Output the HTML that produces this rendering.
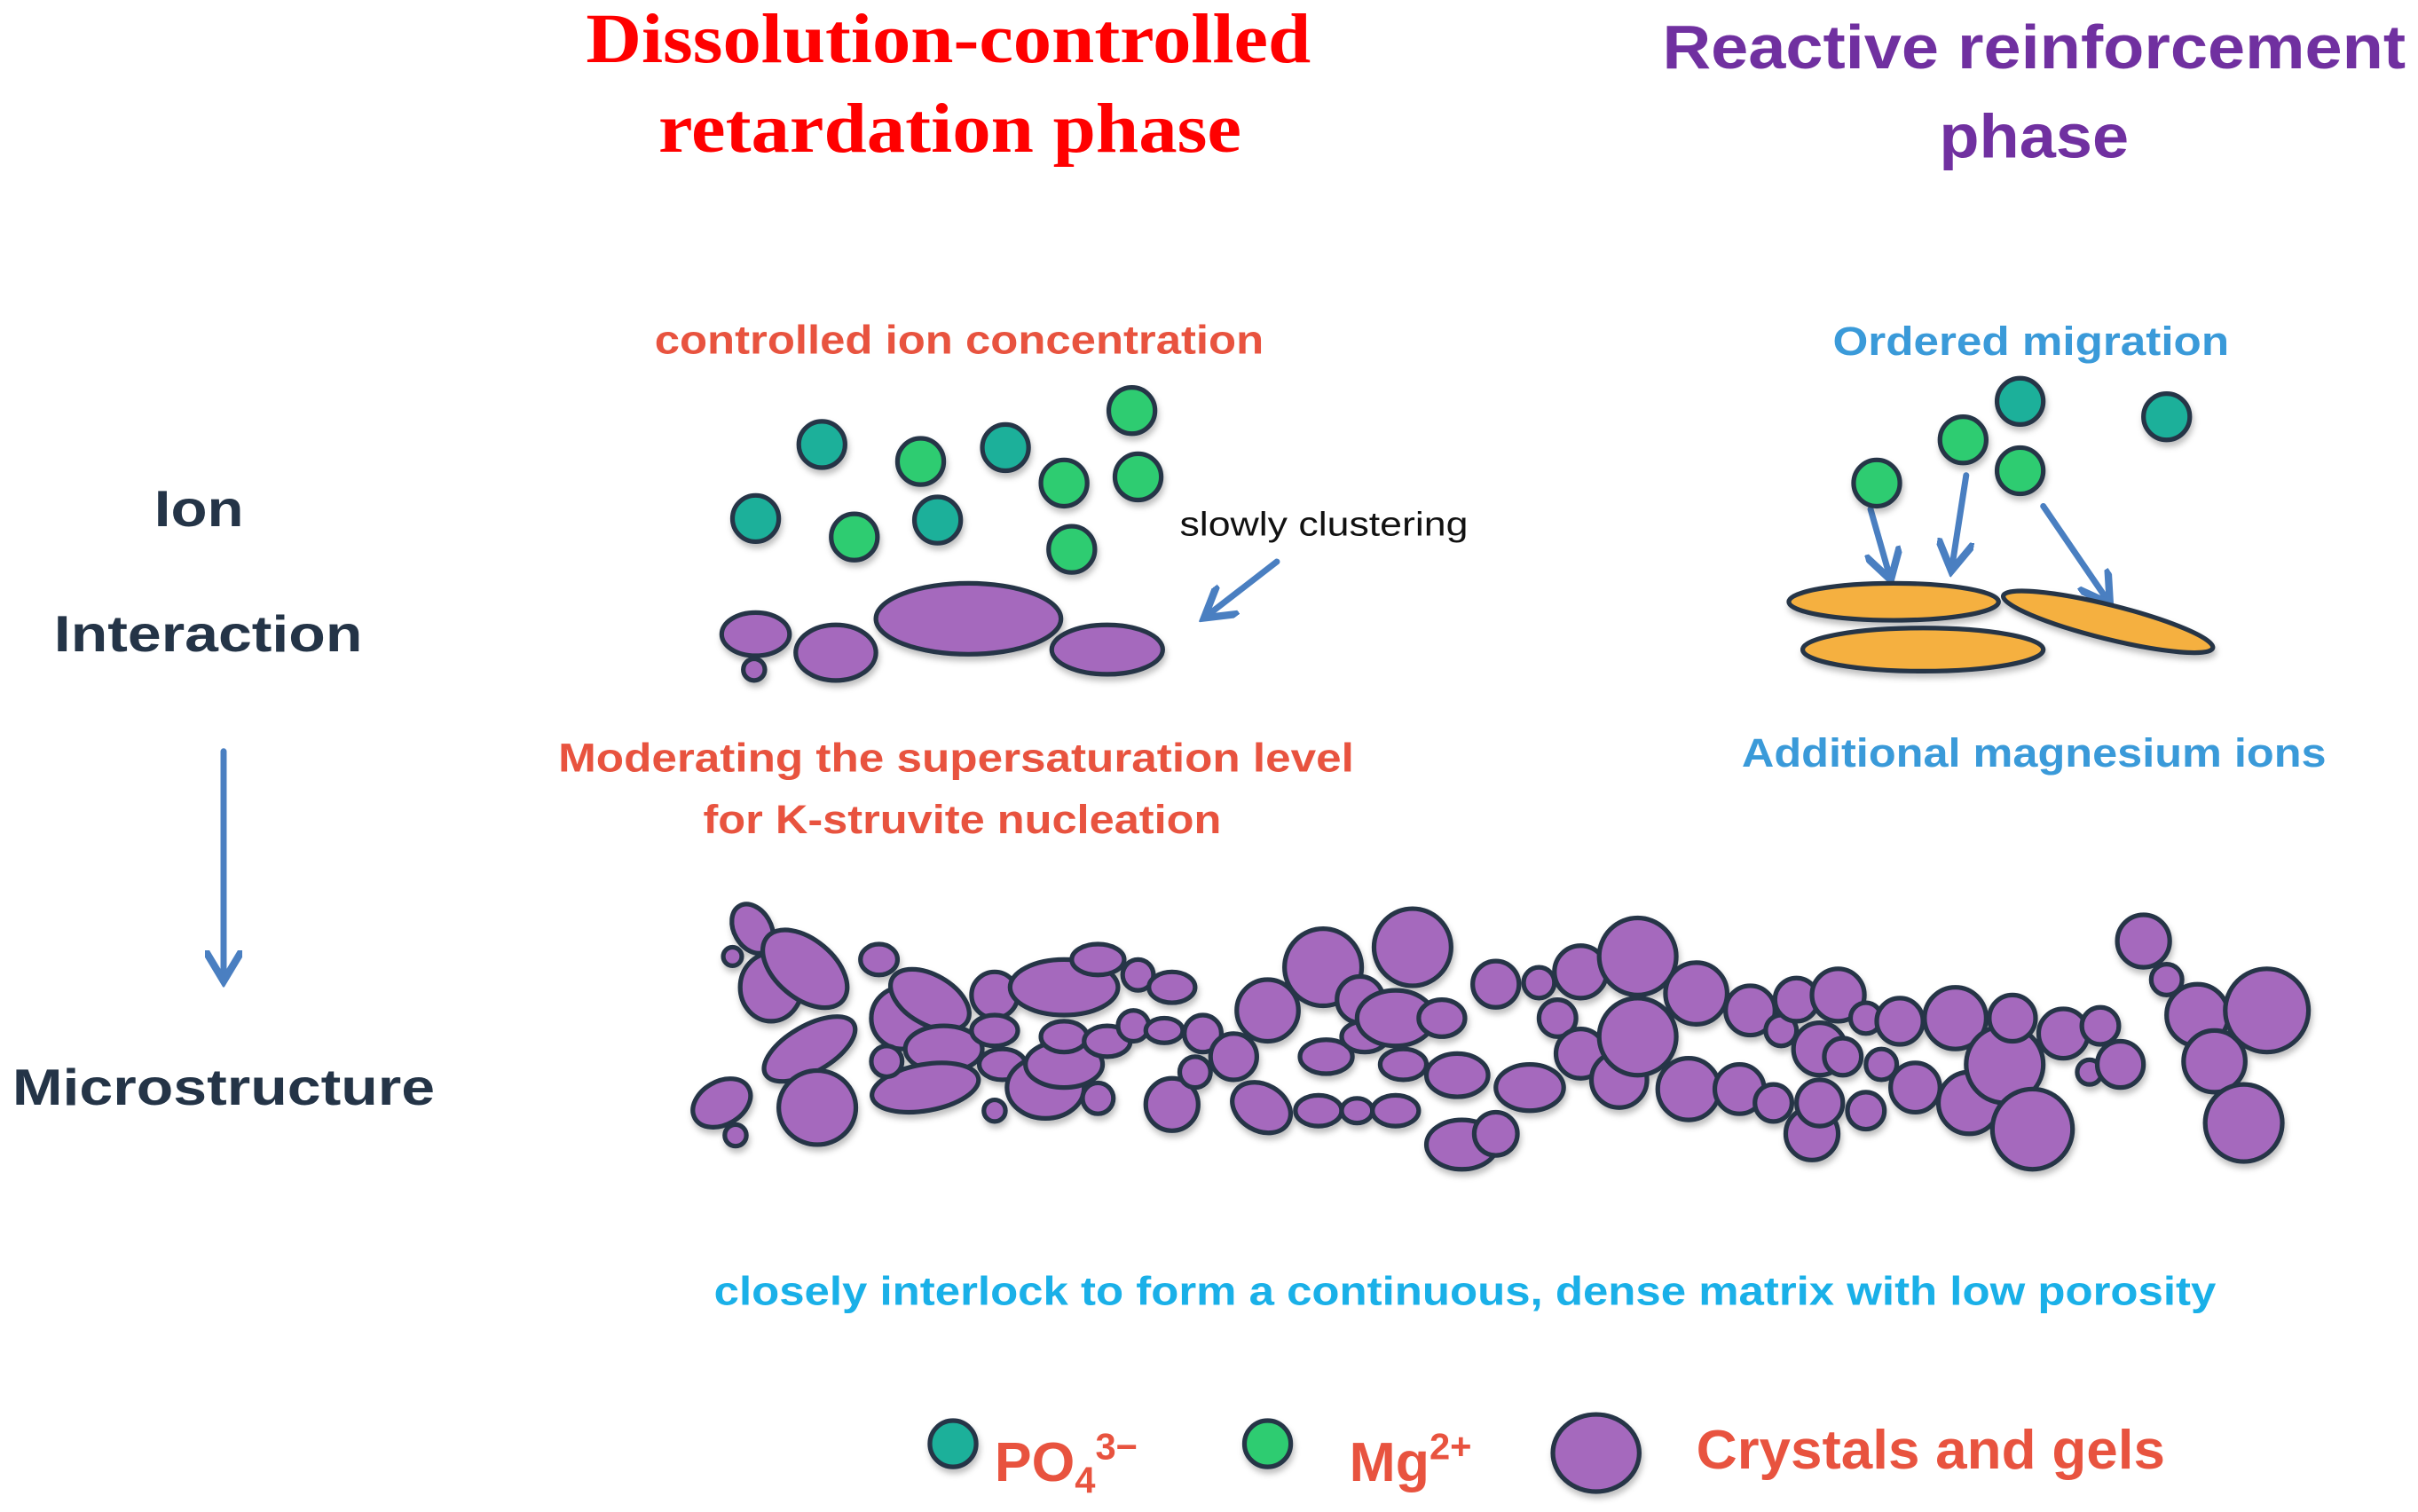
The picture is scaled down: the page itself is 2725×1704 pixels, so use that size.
<!DOCTYPE html>
<html><head><meta charset="utf-8"><style>
html,body{margin:0;padding:0;background:#fff;}
svg{display:block;}
</style></head><body>
<svg width="2725" height="1704" viewBox="0 0 1568 980" xmlns="http://www.w3.org/2000/svg">
<defs>
<filter id="sh" x="-30%" y="-30%" width="160%" height="170%"><feDropShadow dx="1" dy="3" stdDeviation="2" flood-color="#000" flood-opacity="0.25"/></filter>
<marker id="ah" markerWidth="6" markerHeight="6" refX="4" refY="3" orient="auto" markerUnits="strokeWidth"><path d="M0,0 L5,3 L0,6" fill="none" stroke="#4a7fc1" stroke-width="1.2"/></marker>
</defs>
<g font-family="Liberation Serif, serif" font-weight="bold" fill="#ff0000" font-size="46" text-anchor="middle">
<text x="615" y="40" textLength="470" lengthAdjust="spacingAndGlyphs">Dissolution-controlled</text>
<text x="616" y="98" textLength="378" lengthAdjust="spacingAndGlyphs">retardation phase</text>
</g>
<g font-family="Liberation Sans, sans-serif" font-weight="bold" fill="#7030a0" font-size="40" text-anchor="middle">
<text x="1319" y="44" textLength="482" lengthAdjust="spacingAndGlyphs">Reactive reinforcement</text>
<text x="1319" y="102" textLength="123" lengthAdjust="spacingAndGlyphs">phase</text>
</g>
<g font-family="Liberation Sans, sans-serif" font-weight="bold" font-size="26" text-anchor="middle">
<text x="622" y="229" fill="#e8533f" textLength="395" lengthAdjust="spacingAndGlyphs">controlled ion concentration</text>
<text x="1317" y="230" fill="#3a9ad9" textLength="257" lengthAdjust="spacingAndGlyphs">Ordered migration</text>
<text x="620" y="500" fill="#e8533f" textLength="516" lengthAdjust="spacingAndGlyphs">Moderating the supersaturation level</text>
<text x="624" y="540" fill="#e8533f" textLength="336" lengthAdjust="spacingAndGlyphs">for K-struvite nucleation</text>
<text x="1319" y="497" fill="#3a9ad9" textLength="379" lengthAdjust="spacingAndGlyphs">Additional magnesium ions</text>
<text x="950" y="846" fill="#1ab0e8" textLength="974" lengthAdjust="spacingAndGlyphs">closely interlock to form a continuous, dense matrix with low porosity</text>
</g>
<g font-family="Liberation Sans, sans-serif" font-weight="bold" font-size="33" fill="#243447" text-anchor="middle">
<text x="129" y="341" textLength="58" lengthAdjust="spacingAndGlyphs">Ion</text>
<text x="135" y="422" textLength="200" lengthAdjust="spacingAndGlyphs">Interaction</text>
<text x="145" y="716" textLength="274" lengthAdjust="spacingAndGlyphs">Microstructure</text>
</g>
<text x="765" y="347" font-family="Liberation Sans, sans-serif" font-size="22" fill="#111" textLength="187" lengthAdjust="spacingAndGlyphs">slowly clustering</text>
<g stroke="#4a7fc1" stroke-width="4" fill="none" marker-end="url(#ah)" stroke-linecap="round">
<line x1="145" y1="487" x2="145" y2="632"/>
<line x1="828" y1="364" x2="784" y2="398"/>
<line x1="1213" y1="330" x2="1225" y2="372"/>
<line x1="1275" y1="308" x2="1266" y2="366"/>
<line x1="1325" y1="328" x2="1366" y2="388"/>
</g>
<g stroke="#253447" stroke-width="3" filter="url(#sh)">
<g fill="#1bb09a">
<circle cx="533" cy="288" r="15"/><circle cx="652" cy="290" r="15"/><circle cx="490" cy="336" r="15"/><circle cx="608" cy="337" r="15"/>
<circle cx="1310" cy="260" r="15"/><circle cx="1405" cy="270" r="15"/>
<circle cx="618" cy="936" r="15"/>
</g>
<g fill="#2ecc71">
<circle cx="734" cy="266" r="15"/><circle cx="597" cy="299" r="15"/><circle cx="690" cy="313" r="15"/><circle cx="738" cy="309" r="15"/><circle cx="554" cy="348" r="15"/><circle cx="695" cy="356" r="15"/>
<circle cx="1217" cy="313" r="15"/><circle cx="1273" cy="285" r="15"/><circle cx="1310" cy="305" r="15"/>
<circle cx="822" cy="936" r="15"/>
</g>
<g fill="#f5b041">
<ellipse cx="1228" cy="390" rx="68" ry="12"/>
<ellipse cx="1247" cy="421" rx="78" ry="14"/>
<ellipse cx="1367" cy="403" rx="70" ry="11" transform="rotate(14 1367 403)"/>
</g>
<g fill="#a569bd">
<ellipse cx="490" cy="411" rx="22" ry="14"/><circle cx="489" cy="434" r="7"/><ellipse cx="542" cy="423" rx="26" ry="18"/><ellipse cx="628" cy="401" rx="60" ry="23"/><ellipse cx="718" cy="421" rx="36" ry="16"/>
<ellipse cx="1035" cy="942" rx="28" ry="25"/>
</g>
<g fill="#a569bd">
<ellipse cx="488" cy="602" rx="12" ry="17" transform="rotate(-30 488 602)"/>
<circle cx="475" cy="620" r="6"/>
<ellipse cx="500" cy="640" rx="20" ry="22"/>
<ellipse cx="522" cy="628" rx="32" ry="19" transform="rotate(40 522 628)"/>
<ellipse cx="570" cy="622" rx="12" ry="10"/>
<ellipse cx="585" cy="660" rx="20" ry="20"/>
<ellipse cx="603" cy="648" rx="28" ry="16" transform="rotate(30 603 648)"/>
<ellipse cx="525" cy="680" rx="33" ry="15" transform="rotate(-30 525 680)"/>
<ellipse cx="530" cy="718" rx="25" ry="24"/>
<ellipse cx="468" cy="715" rx="20" ry="14" transform="rotate(-30 468 715)"/>
<circle cx="477" cy="736" r="7"/>
<ellipse cx="612" cy="680" rx="25" ry="15"/>
<ellipse cx="600" cy="705" rx="35" ry="15" transform="rotate(-10 600 705)"/>
<circle cx="575" cy="688" r="10"/>
<circle cx="645" cy="645" r="15"/>
<ellipse cx="645" cy="668" rx="15" ry="10"/>
<ellipse cx="650" cy="690" rx="15" ry="10"/>
<circle cx="645" cy="720" r="7"/>
<ellipse cx="678" cy="705" rx="25" ry="20"/>
<circle cx="712" cy="712" r="10"/>
<ellipse cx="690" cy="690" rx="25" ry="15"/>
<ellipse cx="690" cy="672" rx="15" ry="10"/>
<ellipse cx="690" cy="640" rx="35" ry="18"/>
<ellipse cx="712" cy="622" rx="17" ry="10"/>
<ellipse cx="718" cy="675" rx="15" ry="10"/>
<circle cx="738" cy="632" r="10"/>
<circle cx="735" cy="665" r="10"/>
<ellipse cx="760" cy="640" rx="15" ry="10"/>
<ellipse cx="755" cy="668" rx="12" ry="8"/>
<circle cx="760" cy="716" r="17"/>
<circle cx="780" cy="670" r="12"/>
<circle cx="775" cy="695" r="10"/>
<circle cx="800" cy="685" r="15"/>
<ellipse cx="818" cy="718" rx="20" ry="15" transform="rotate(30 818 718)"/>
<circle cx="822" cy="655" r="20"/>
<circle cx="858" cy="627" r="25"/>
<ellipse cx="860" cy="685" rx="17" ry="11"/>
<ellipse cx="855" cy="720" rx="15" ry="10"/>
<ellipse cx="880" cy="720" rx="10" ry="8"/>
<circle cx="882" cy="648" r="15"/>
<ellipse cx="885" cy="672" rx="15" ry="10"/>
<ellipse cx="905" cy="720" rx="15" ry="10"/>
<ellipse cx="910" cy="690" rx="15" ry="10"/>
<ellipse cx="905" cy="660" rx="25" ry="18"/>
<circle cx="916" cy="614" r="25"/>
<ellipse cx="935" cy="660" rx="15" ry="12"/>
<ellipse cx="945" cy="697" rx="20" ry="14"/>
<ellipse cx="948" cy="742" rx="23" ry="16"/>
<circle cx="970" cy="735" r="14"/>
<circle cx="970" cy="638" r="15"/>
<ellipse cx="992" cy="705" rx="22" ry="15"/>
<circle cx="998" cy="637" r="10"/>
<circle cx="1010" cy="660" r="12"/>
<circle cx="1025" cy="683" r="16"/>
<circle cx="1025" cy="630" r="17"/>
<circle cx="1050" cy="700" r="18"/>
<circle cx="1062" cy="620" r="25"/>
<circle cx="1062" cy="672" r="25"/>
<circle cx="1095" cy="706" r="20"/>
<circle cx="1100" cy="644" r="20"/>
<circle cx="1128" cy="706" r="16"/>
<circle cx="1135" cy="655" r="16"/>
<circle cx="1150" cy="715" r="12"/>
<circle cx="1155" cy="668" r="10"/>
<circle cx="1165" cy="648" r="14"/>
<circle cx="1175" cy="735" r="17"/>
<circle cx="1180" cy="680" r="17"/>
<circle cx="1180" cy="715" r="15"/>
<circle cx="1192" cy="645" r="17"/>
<circle cx="1195" cy="685" r="12"/>
<circle cx="1210" cy="660" r="10"/>
<circle cx="1210" cy="720" r="12"/>
<circle cx="1220" cy="690" r="10"/>
<circle cx="1232" cy="662" r="15"/>
<circle cx="1242" cy="705" r="16"/>
<circle cx="1268" cy="660" r="20"/>
<circle cx="1277" cy="715" r="20"/>
<circle cx="1300" cy="690" r="25"/>
<circle cx="1305" cy="660" r="15"/>
<circle cx="1318" cy="732" r="26"/>
<circle cx="1338" cy="670" r="16"/>
<circle cx="1355" cy="695" r="8"/>
<circle cx="1362" cy="665" r="12"/>
<circle cx="1375" cy="690" r="15"/>
<circle cx="1390" cy="610" r="17"/>
<circle cx="1405" cy="635" r="10"/>
<circle cx="1425" cy="658" r="20"/>
<circle cx="1436" cy="688" r="20"/>
<circle cx="1455" cy="728" r="25"/>
<circle cx="1470" cy="655" r="27"/>
</g>
</g>
<g font-family="Liberation Sans, sans-serif" font-weight="bold" fill="#e8533f">
<text x="645" y="960" font-size="36">PO<tspan font-size="24" dy="8">4</tspan><tspan font-size="24" dy="-22">3−</tspan></text>
<text x="875" y="960" font-size="36">Mg<tspan font-size="24" dy="-14">2+</tspan></text>
<text x="1100" y="952" font-size="36" textLength="304" lengthAdjust="spacingAndGlyphs">Crystals and gels</text>
</g>
</svg>
</body></html>
